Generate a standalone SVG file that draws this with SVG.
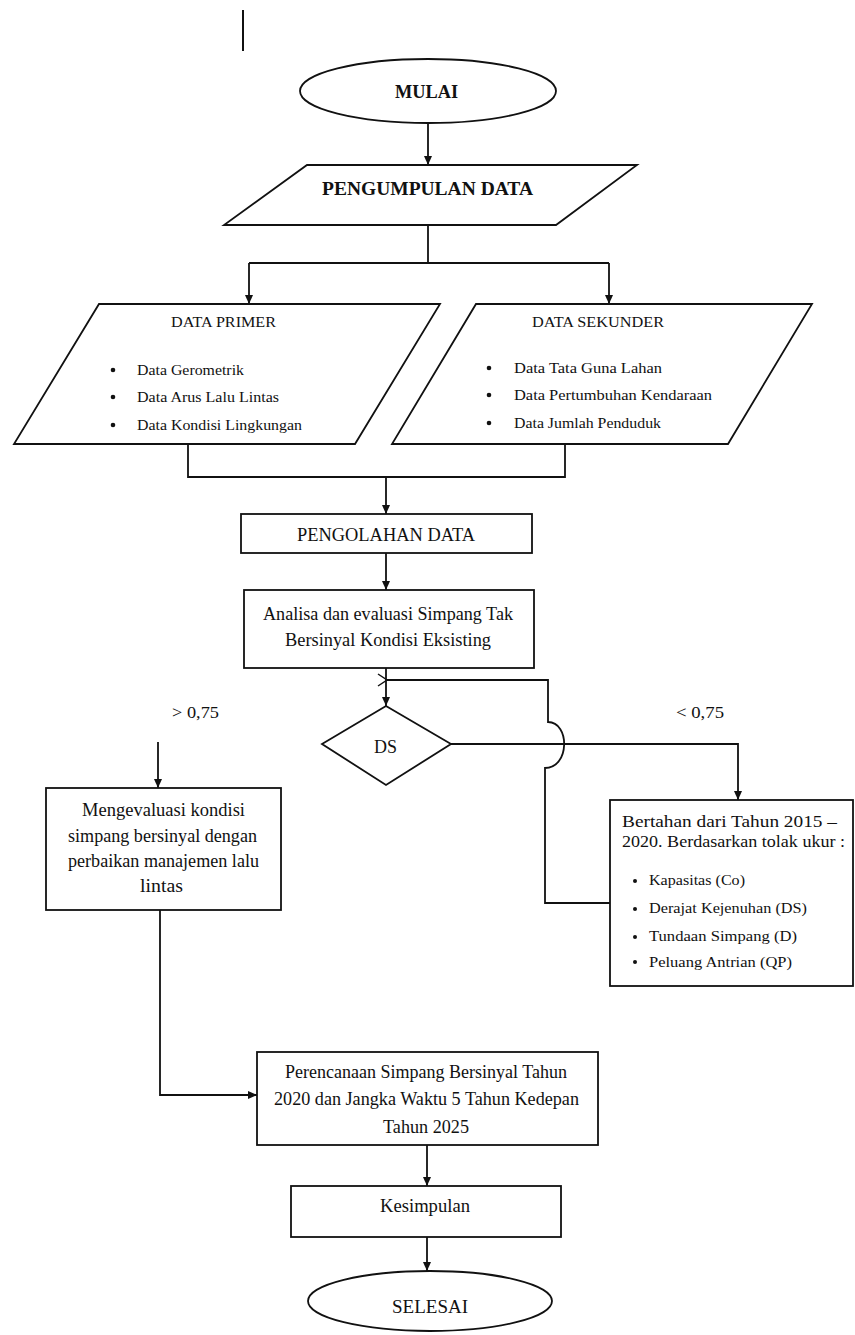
<svg xmlns="http://www.w3.org/2000/svg" width="855" height="1335" viewBox="0 0 855 1335">
<style>
.s{fill:#fff;stroke:#111;stroke-width:1.8}
.c{fill:none;stroke:#111;stroke-width:1.8}
text{font-family:"Liberation Serif","Times New Roman",serif;fill:#111}
.b{font-weight:bold;font-size:18px}
.m{font-size:19.5px}
.r{font-size:17px}
.sm{font-size:15px}
.dot{fill:#111}
</style>
<defs>
<marker id="ah" markerUnits="userSpaceOnUse" markerWidth="10" markerHeight="9" refX="9" refY="4.5" orient="auto">
<path d="M0,0.5 L9,4.5 L0,8.5 z" fill="#111"/>
</marker>
<marker id="oh" markerUnits="userSpaceOnUse" markerWidth="12" markerHeight="14" refX="1" refY="7" orient="auto">
<path d="M10,1 L1,7 L10,13" fill="none" stroke="#111" stroke-width="1.5"/>
</marker>
</defs>
<rect width="855" height="1335" fill="#fff"/>
<line x1="243" y1="10" x2="243" y2="51" stroke="#111" stroke-width="2"/>
<g id="connectors">
<path class="c" d="M428,124 V165" marker-end="url(#ah)"/>
<path class="c" d="M428,225 V263"/>
<path class="c" d="M249,263 H609"/>
<path class="c" d="M249,263 V304" marker-end="url(#ah)"/>
<path class="c" d="M609,263 V304" marker-end="url(#ah)"/>
<path class="c" d="M188,444 V477 H565 V444"/>
<path class="c" d="M386,477 V514" marker-end="url(#ah)"/>
<path class="c" d="M386,553 V590" marker-end="url(#ah)"/>
<path class="c" d="M386,668 V706" marker-end="url(#ah)"/>
<path class="c" d="M610,903 H545 V768 C570,768 570,722 548,722 V680 H387" marker-end="url(#oh)"/>
<path class="c" d="M451,744 H738 V800" marker-end="url(#ah)"/>
<path class="c" d="M158,742 V788" marker-end="url(#ah)"/>
<path class="c" d="M160,910 V1095 H257" marker-end="url(#ah)"/>
<path class="c" d="M427,1145 V1186" marker-end="url(#ah)"/>
<path class="c" d="M427,1237 V1271" marker-end="url(#ah)"/>
</g>
<g id="mulai">
<ellipse class="s" cx="428" cy="91" rx="128" ry="32"/>
<text class="b" x="395" y="98" textLength="63" lengthAdjust="spacingAndGlyphs">MULAI</text>
</g>
<g id="pengumpulan">
<polygon class="s" points="307,165 637,165 556,225 224,225"/>
<text class="b" x="322" y="195" textLength="211" lengthAdjust="spacingAndGlyphs">PENGUMPULAN DATA</text>
</g>
<g id="data-primer">
<polygon class="s" points="99,304 440,304 355,444 14,444"/>
<text class="sm" x="171" y="327" textLength="105" lengthAdjust="spacingAndGlyphs">DATA PRIMER</text>
<circle class="dot" cx="113" cy="370" r="2.3"/>
<circle class="dot" cx="113" cy="397" r="2.3"/>
<circle class="dot" cx="113" cy="425" r="2.3"/>
<text class="sm" x="137" y="375" textLength="107" lengthAdjust="spacingAndGlyphs">Data Gerometrik</text>
<text class="sm" x="137" y="402" textLength="142" lengthAdjust="spacingAndGlyphs">Data Arus Lalu Lintas</text>
<text class="sm" x="137" y="430" textLength="165" lengthAdjust="spacingAndGlyphs">Data Kondisi  Lingkungan</text>
</g>
<g id="data-sekunder">
<polygon class="s" points="476,304 812,304 728,444 392,444"/>
<text class="sm" x="532" y="327" textLength="132" lengthAdjust="spacingAndGlyphs">DATA SEKUNDER</text>
<circle class="dot" cx="489" cy="368" r="2.3"/>
<circle class="dot" cx="489" cy="395" r="2.3"/>
<circle class="dot" cx="489" cy="423" r="2.3"/>
<text class="sm" x="514" y="373" textLength="148" lengthAdjust="spacingAndGlyphs">Data Tata Guna Lahan</text>
<text class="sm" x="514" y="400" textLength="198" lengthAdjust="spacingAndGlyphs">Data Pertumbuhan  Kendaraan</text>
<text class="sm" x="514" y="428" textLength="147" lengthAdjust="spacingAndGlyphs">Data Jumlah Penduduk</text>
</g>
<g id="pengolahan">
<rect class="s" x="241" y="514" width="291" height="39"/>
<text class="m" x="297" y="541" textLength="178" lengthAdjust="spacingAndGlyphs">PENGOLAHAN DATA</text>
</g>
<g id="analisa">
<rect class="s" x="244" y="590" width="290" height="78"/>
<text class="m" x="263" y="620" textLength="250" lengthAdjust="spacingAndGlyphs">Analisa dan evaluasi Simpang Tak</text>
<text class="m" x="285" y="646" textLength="206" lengthAdjust="spacingAndGlyphs">Bersinyal Kondisi Eksisting</text>
</g>
<g id="ds">
<polygon class="s" points="386,706 451,744 386,785 322,744"/>
<text class="m" x="374" y="753" textLength="23" lengthAdjust="spacingAndGlyphs">DS</text>
</g>
<g id="labels">
<text x="172" y="718" font-size="17" textLength="47" lengthAdjust="spacingAndGlyphs">&gt; 0,75</text>
<text x="676" y="718" font-size="17" textLength="48" lengthAdjust="spacingAndGlyphs">&lt; 0,75</text>
</g>
<g id="mengevaluasi">
<rect class="s" x="46" y="788" width="235" height="122"/>
<text class="m" x="82" y="816" textLength="163" lengthAdjust="spacingAndGlyphs">Mengevaluasi kondisi</text>
<text class="m" x="68" y="842" textLength="189" lengthAdjust="spacingAndGlyphs">simpang bersinyal dengan</text>
<text class="m" x="68" y="867" textLength="191" lengthAdjust="spacingAndGlyphs">perbaikan manajemen lalu</text>
<text class="m" x="140" y="892" textLength="43" lengthAdjust="spacingAndGlyphs">lintas</text>
</g>
<g id="bertahan">
<rect class="s" x="610" y="800" width="243" height="186"/>
<text class="r" x="622" y="827" textLength="215" lengthAdjust="spacingAndGlyphs">Bertahan  dari Tahun 2015 –</text>
<text class="r" x="622" y="847" textLength="223" lengthAdjust="spacingAndGlyphs">2020. Berdasarkan tolak ukur :</text>
<circle class="dot" cx="635" cy="881" r="2"/>
<circle class="dot" cx="635" cy="909" r="2"/>
<circle class="dot" cx="635" cy="937" r="2"/>
<circle class="dot" cx="635" cy="962" r="2"/>
<text font-size="14.5" x="649" y="885" textLength="96" lengthAdjust="spacingAndGlyphs">Kapasitas (Co)</text>
<text font-size="14.5" x="649" y="913" textLength="158" lengthAdjust="spacingAndGlyphs">Derajat Kejenuhan (DS)</text>
<text font-size="14.5" x="649" y="941" textLength="148" lengthAdjust="spacingAndGlyphs">Tundaan Simpang  (D)</text>
<text font-size="14.5" x="649" y="967" textLength="143" lengthAdjust="spacingAndGlyphs">Peluang  Antrian (QP)</text>
</g>
<g id="perencanaan">
<rect class="s" x="257" y="1052" width="341" height="93"/>
<text class="m" x="285" y="1078" textLength="282" lengthAdjust="spacingAndGlyphs">Perencanaan Simpang Bersinyal Tahun</text>
<text class="m" x="274" y="1105" textLength="305" lengthAdjust="spacingAndGlyphs">2020 dan Jangka Waktu 5 Tahun Kedepan</text>
<text class="m" x="383" y="1133" textLength="86" lengthAdjust="spacingAndGlyphs">Tahun 2025</text>
</g>
<g id="kesimpulan">
<rect class="s" x="291" y="1186" width="270" height="51"/>
<text class="m" x="380" y="1212" textLength="90" lengthAdjust="spacingAndGlyphs">Kesimpulan</text>
</g>
<g id="selesai">
<ellipse class="s" cx="430" cy="1301" rx="122" ry="30"/>
<text class="m" x="392" y="1313" textLength="76" lengthAdjust="spacingAndGlyphs">SELESAI</text>
</g>
</svg>
